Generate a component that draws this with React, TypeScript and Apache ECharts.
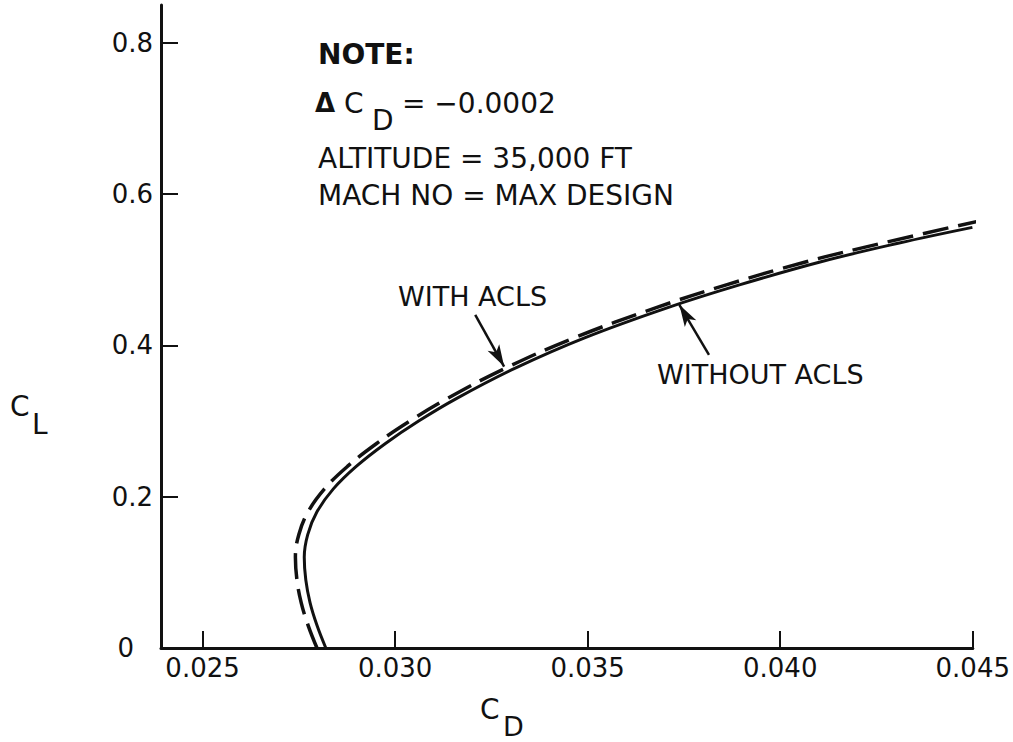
import React, { useEffect, useRef } from "react";
import * as echarts from "echarts";

// Solid curve: WITHOUT ACLS (C_L, C_D pairs)
const CL_WITHOUT = [0.0, 0.03, 0.06, 0.09, 0.12, 0.15, 0.18, 0.21, 0.24, 0.27, 0.3, 0.33, 0.37, 0.41, 0.45, 0.48, 0.51, 0.535, 0.556];
const CD_WITHOUT = [0.0282, 0.02797, 0.02779, 0.02768, 0.02764, 0.02773, 0.02797, 0.02839, 0.02899, 0.02974, 0.03061, 0.0316, 0.03312, 0.03492, 0.03708, 0.03894, 0.04101, 0.04306, 0.04499];

// Dashed curve: WITH ACLS
const CL_WITH = [0.0, 0.03, 0.06, 0.09, 0.12, 0.15, 0.18, 0.21, 0.24, 0.27, 0.3, 0.33, 0.37, 0.41, 0.45, 0.48, 0.51, 0.535, 0.565];
const CD_WITH = [0.02797, 0.02774, 0.02756, 0.02745, 0.02741, 0.0275, 0.02774, 0.02816, 0.02876, 0.02951, 0.03038, 0.03136, 0.03287, 0.03465, 0.03678, 0.0386, 0.04063, 0.04263, 0.04521];

const X_TICKS = [0.025, 0.03, 0.035, 0.04, 0.045];
const Y_TICKS = [0, 0.2, 0.4, 0.6, 0.8];

// Arrow annotations (C_D, C_L): tail -> tip
const ARROW_WITH = [[0.03208, 0.4405], [0.03283, 0.372]];
const ARROW_WITHOUT = [[0.03815, 0.3876], [0.03738, 0.4537]];

const NOTE_LINES = ["NOTE:", "ALTITUDE = 35,000 FT", "MACH NO = MAX DESIGN"];

const FONT = "'DejaVu Sans', 'Liberation Sans', sans-serif";

export default function App() {
  const ref = useRef<HTMLDivElement>(null);
  useEffect(() => {
    if (!ref.current) return;
    const chart = echarts.init(ref.current, undefined, { renderer: "svg" });
    const solid = CL_WITHOUT.map((cl, i) => [CD_WITHOUT[i], cl]);
    const dashed = CL_WITH.map((cl, i) => [CD_WITH[i], cl]);
    const txt = (text: string, x: number, y: number, size: number, weight: any = "normal") => ({
      type: "text",
      silent: true,
      style: {
        text,
        x,
        y,
        fill: "#111",
        fontFamily: FONT,
        fontSize: size,
        fontWeight: weight,
        textAlign: "left",
        textVerticalAlign: "middle",
      },
    });
    chart.setOption({
      animation: false,
      backgroundColor: "#fff",
      grid: { left: 161, right: 36, top: 5, bottom: 94 },
      xAxis: {
        type: "value",
        min: 0.02392,
        max: 0.045,
        axisLine: { show: true, lineStyle: { color: "#111", width: 3 } },
        axisTick: {
          show: true,
          inside: true,
          length: 17,
          customValues: X_TICKS,
          lineStyle: { color: "#111", width: 2 },
        },
        axisLabel: {
          customValues: X_TICKS,
          formatter: (v: number) => v.toFixed(3),
          color: "#111",
          fontFamily: FONT,
          fontSize: 26,
          margin: 7,
        },
        splitLine: { show: false },
      },
      yAxis: {
        type: "value",
        min: 0,
        max: 0.85,
        axisLine: { show: true, lineStyle: { color: "#111", width: 3 } },
        axisTick: {
          show: true,
          inside: true,
          length: 17,
          customValues: Y_TICKS.slice(1),
          lineStyle: { color: "#111", width: 2 },
        },
        axisLabel: {
          customValues: Y_TICKS,
          formatter: (v: number) => (v === 0 ? "{z|0}" : v.toFixed(1)),
          color: "#111",
          fontFamily: FONT,
          fontSize: 26,
          margin: 8,
          rich: { z: { fontFamily: FONT, fontSize: 26, color: "#111", padding: [0, 19, 0, 0] } },
        },
        splitLine: { show: false },
      },
      series: [
        {
          name: "WITHOUT ACLS",
          type: "line",
          data: solid,
          smooth: 0.4,
          showSymbol: false,
          clip: false,
          lineStyle: { color: "#111", width: 3 },
          markLine: {
            silent: true,
            symbol: ["none", "arrow"],
            symbolSize: [10, 22],
            label: { show: false },
            lineStyle: { type: "solid", color: "#111", width: 2.5 },
            data: [
              [{ coord: ARROW_WITH[0] }, { coord: ARROW_WITH[1] }],
              [{ coord: ARROW_WITHOUT[0] }, { coord: ARROW_WITHOUT[1] }],
            ],
          },
        },
        {
          name: "WITH ACLS",
          type: "line",
          data: dashed,
          smooth: 0.4,
          showSymbol: false,
          clip: false,
          lineStyle: { color: "#111", width: 3.5, type: [26, 10] },
        },
      ],
      graphic: [
        txt("NOTE:", 318, 54, 28, 600),
        {
          type: "text",
          silent: true,
          style: {
            text: "{d|Δ} C",
            x: 315,
            y: 103,
            fill: "#111",
            fontFamily: FONT,
            fontSize: 28,
            textAlign: "left",
            textVerticalAlign: "middle",
            rich: { d: { fontFamily: FONT, fontSize: 26, fontWeight: "bold", fill: "#111" } },
          },
        },
        txt("D", 372, 120, 28),
        txt("= −0.0002", 402, 103, 28),
        txt(NOTE_LINES[1], 318, 158, 28),
        txt(NOTE_LINES[2], 318, 195, 28),
        txt("WITH ACLS", 398, 296, 27),
        txt("WITHOUT ACLS", 657, 374, 27),
        txt("C", 480, 709, 28),
        txt("D", 503, 726, 27),
        txt("C", 10, 406, 28),
        txt("L", 32, 424, 28),
      ],
    });
    return () => chart.dispose();
  }, []);
  return (
    <div
      ref={ref}
      style={{ position: "fixed", left: 0, top: 0, width: 1013, height: 742, background: "#fff" }}
    />
  );
}
